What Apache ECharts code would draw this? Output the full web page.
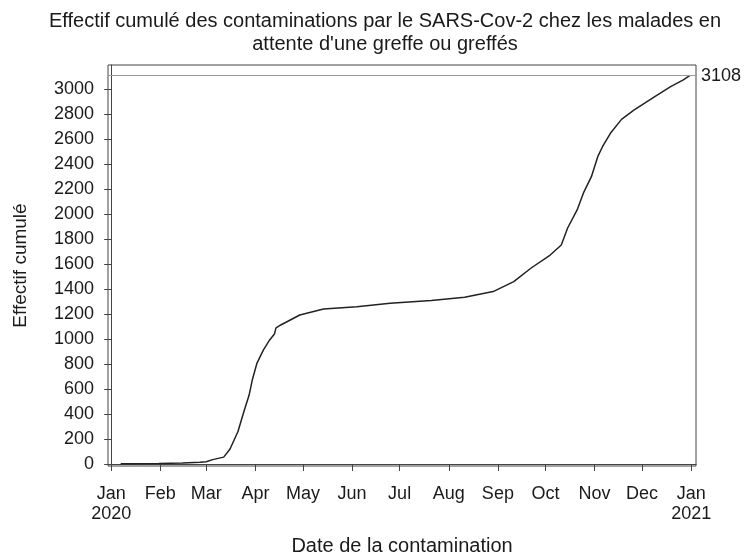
<!DOCTYPE html>
<html>
<head>
<meta charset="utf-8">
<script src="https://cdn.jsdelivr.net/npm/echarts@6/dist/echarts.min.js"></script>
<style>
  html, body { margin: 0; padding: 0; background: #fff; }
  #chart { width: 744px; height: 554px; }
</style>
</head>
<body>
<div id="chart"></div>
<script>
// dates of contamination (2020) and cumulative count
const dates = [
  "2020-01-07", "2020-01-31", "2020-02-15", "2020-02-26", "2020-03-01", "2020-03-05",
  "2020-03-12", "2020-03-16", "2020-03-21", "2020-03-25", "2020-03-28", "2020-03-30",
  "2020-04-02", "2020-04-06", "2020-04-10", "2020-04-13", "2020-04-14", "2020-04-17",
  "2020-04-23", "2020-04-29", "2020-05-14", "2020-06-04", "2020-06-25", "2020-07-21",
  "2020-08-11", "2020-08-29", "2020-09-11", "2020-09-22", "2020-10-04", "2020-10-11",
  "2020-10-15", "2020-10-21", "2020-10-25", "2020-10-30", "2020-11-03", "2020-11-06",
  "2020-11-11", "2020-11-18", "2020-11-26", "2020-12-09", "2020-12-19", "2020-12-27",
  "2020-12-31"
];
const cumul = [
  2, 4, 8, 15, 18, 35,
  55, 120, 260, 430, 550, 670,
  808, 912, 993, 1040, 1090, 1113,
  1153, 1193, 1241, 1259, 1286, 1308,
  1334, 1380, 1460, 1569, 1673, 1753,
  1889, 2034, 2170, 2300, 2460, 2540,
  2647, 2759, 2834, 2941, 3021, 3075,
  3108
];
const total = 3108;

const monthTicks = [
  "2020-01-01", "2020-02-01", "2020-03-01", "2020-04-01", "2020-05-01", "2020-06-01",
  "2020-07-01", "2020-08-01", "2020-09-01", "2020-10-01", "2020-11-01", "2020-12-01",
  "2021-01-01"
];
const monthLabels = ["Jan", "Feb", "Mar", "Apr", "May", "Jun", "Jul", "Aug", "Sep", "Oct", "Nov", "Dec", "Jan"];
const yearLabels = ["2020", "", "", "", "", "", "", "", "", "", "", "", "2021"];
const yTicks = [0, 200, 400, 600, 800, 1000, 1200, 1400, 1600, 1800, 2000, 2200, 2400, 2600, 2800, 3000];

// days since 2020-01-01
function day(s) {
  const p = s.split("-").map(Number);
  return Math.round((Date.UTC(p[0], p[1] - 1, p[2]) - Date.UTC(2020, 0, 1)) / 86400000);
}

const monthDays = monthTicks.map(day);
const FONT = "Liberation Sans, Arial, sans-serif";
const INK = "#1a1a1a";

const chart = echarts.init(document.getElementById("chart"));
chart.setOption({
  animation: false,
  backgroundColor: "#fff",
  title: {
    text: "Effectif cumulé des contaminations par le SARS-Cov-2 chez les malades en\nattente d'une greffe ou greffés",
    left: 380,
    top: 5,
    textAlign: "center",
    textStyle: {
      fontFamily: FONT,
      fontSize: 20,
      fontWeight: "normal",
      color: INK,
      lineHeight: 23,
      align: "center"
    }
  },
  grid: {
    left: 108,
    right: 48,
    top: 65,
    bottom: 88,
    containLabel: false,
    outerBoundsMode: "none",
    show: true,
    borderColor: "#444",
    borderWidth: 1
  },
  xAxis: {
    type: "value",
    min: day("2019-12-30"),
    max: day("2021-01-04"),
    name: "Date de la contamination",
    nameLocation: "middle",
    nameGap: 70,
    nameTextStyle: { fontFamily: FONT, fontSize: 20, color: INK },
    axisLine: { lineStyle: { color: "#444", width: 1 } },
    axisTick: { show: true, length: 7, customValues: monthDays, lineStyle: { color: "#444" } },
    axisLabel: {
      customValues: monthDays,
      fontFamily: FONT,
      fontSize: 18,
      color: INK,
      margin: 18,
      lineHeight: 20,
      formatter: function (v) {
        const i = monthDays.indexOf(v);
        if (i < 0) return "";
        return yearLabels[i] ? monthLabels[i] + "\n" + yearLabels[i] : monthLabels[i];
      }
    },
    splitLine: { show: false }
  },
  yAxis: {
    type: "value",
    min: -16,
    max: 3194,
    name: "Effectif cumulé",
    nameLocation: "middle",
    nameGap: 78,
    nameTextStyle: { fontFamily: FONT, fontSize: 19, color: INK },
    axisLine: { show: true, lineStyle: { color: "#444", width: 1 } },
    axisTick: { show: true, length: 7, customValues: yTicks, lineStyle: { color: "#444" } },
    axisLabel: {
      customValues: yTicks,
      fontFamily: FONT,
      fontSize: 18,
      color: INK,
      margin: 14,
      formatter: function (v) { return String(v); }
    },
    splitLine: { show: false }
  },
  series: [
    {
      type: "line",
      data: dates.map((d, i) => [day(d), cumul[i]]),
      showSymbol: false,
      lineStyle: { color: "#222", width: 1.5 },
      markLine: {
        silent: true,
        symbol: "none",
        lineStyle: { color: "#999", type: "solid", width: 1.2 },
        label: {
          position: "end",
          distance: 5,
          fontFamily: FONT,
          fontSize: 18,
          color: INK,
          formatter: String(total)
        },
        data: [{ yAxis: total }]
      }
    }
  ]
});
</script>
</body>
</html>
